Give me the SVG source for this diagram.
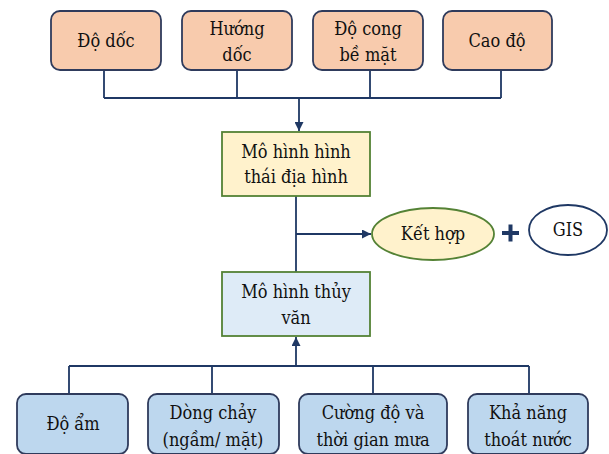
<svg xmlns="http://www.w3.org/2000/svg" width="609" height="454" viewBox="0 0 609 454">
<style>
text{font-family:'DejaVu Serif Condensed','DejaVu Serif',serif;font-size:18px;fill:#111;text-anchor:middle}
.top{fill:#F8CBAD;stroke:#2F3B5C;stroke-width:1.8}
.bot{fill:#BDD7EE;stroke:#2F3B5C;stroke-width:1.8}
.mid1{fill:#FFF2CC;stroke:#548235;stroke-width:1.8}
.mid2{fill:#DEEBF7;stroke:#548235;stroke-width:1.8}
.c{fill:none;stroke:#1F3864;stroke-width:1.8}
</style>
<defs>
<marker id="ah" viewBox="0 0 10 10" refX="10" refY="5" markerWidth="5" markerHeight="5" orient="auto" markerUnits="strokeWidth">
<path d="M0,0 L10,5 L0,10 z" fill="#1F3864"/>
</marker>
</defs>
<g id="connectors">
<path class="c" d="M104,70 V98 M237,70 V98 M370,70 V98 M501,70 V98 M104,98 H501"/>
<path class="c" d="M299,98 V131" marker-end="url(#ah)"/>
<path class="c" d="M296,196 V272"/>
<path class="c" d="M296,234 H371" marker-end="url(#ah)"/>
<path class="c" d="M69,394 V366 M212,394 V366 M373,394 V366 M529,394 V366 M69,366 H529"/>
<path class="c" d="M296,366 V337" marker-end="url(#ah)"/>
</g>
<g id="n-do-doc"><rect class="top" x="51" y="11" width="110" height="59" rx="9"/><text x="106" y="47">Độ dốc</text></g>
<g id="n-huong-doc"><rect class="top" x="182" y="11" width="110" height="59" rx="9"/><text x="237" y="35">Hướng</text><text x="237" y="61">dốc</text></g>
<g id="n-do-cong"><rect class="top" x="313" y="11" width="110" height="59" rx="9"/><text x="368" y="35">Độ cong</text><text x="368" y="61">bề mặt</text></g>
<g id="n-cao-do"><rect class="top" x="443" y="11" width="109" height="59" rx="9"/><text x="497" y="47">Cao độ</text></g>
<g id="n-hinh-thai"><rect class="mid1" x="222" y="132" width="148" height="64"/><text x="296" y="158">Mô hình hình</text><text x="296" y="183">thái địa hình</text></g>
<g id="n-ket-hop"><ellipse class="mid1" cx="433" cy="234" rx="61" ry="26"/><text x="433" y="240">Kết hợp</text></g>
<g id="n-plus"><path d="M502,233 H519 M510.5,224.5 V241.5" stroke="#1F3864" stroke-width="4" fill="none"/></g>
<g id="n-gis"><ellipse cx="568" cy="230" rx="39" ry="25" fill="#fff" stroke="#1F3864" stroke-width="1.8"/><text x="568" y="236">GIS</text></g>
<g id="n-thuy-van"><rect class="mid2" x="222" y="272" width="148" height="64"/><text x="296" y="298">Mô hình thủy</text><text x="296" y="324">văn</text></g>
<g id="n-do-am"><rect class="bot" x="17" y="394" width="111" height="60" rx="9"/><text x="73" y="430">Độ ẩm</text></g>
<g id="n-dong-chay"><rect class="bot" x="148" y="394" width="131" height="60" rx="9"/><text x="213" y="419">Dòng chảy</text><text x="213" y="446">(ngầm/ mặt)</text></g>
<g id="n-cuong-do"><rect class="bot" x="299" y="394" width="148" height="60" rx="9"/><text x="373" y="419">Cường độ và</text><text x="373" y="446">thời gian mưa</text></g>
<g id="n-kha-nang"><rect class="bot" x="468" y="394" width="120" height="60" rx="9"/><text x="528" y="419">Khả năng</text><text x="528" y="446">thoát nước</text></g>
</svg>
